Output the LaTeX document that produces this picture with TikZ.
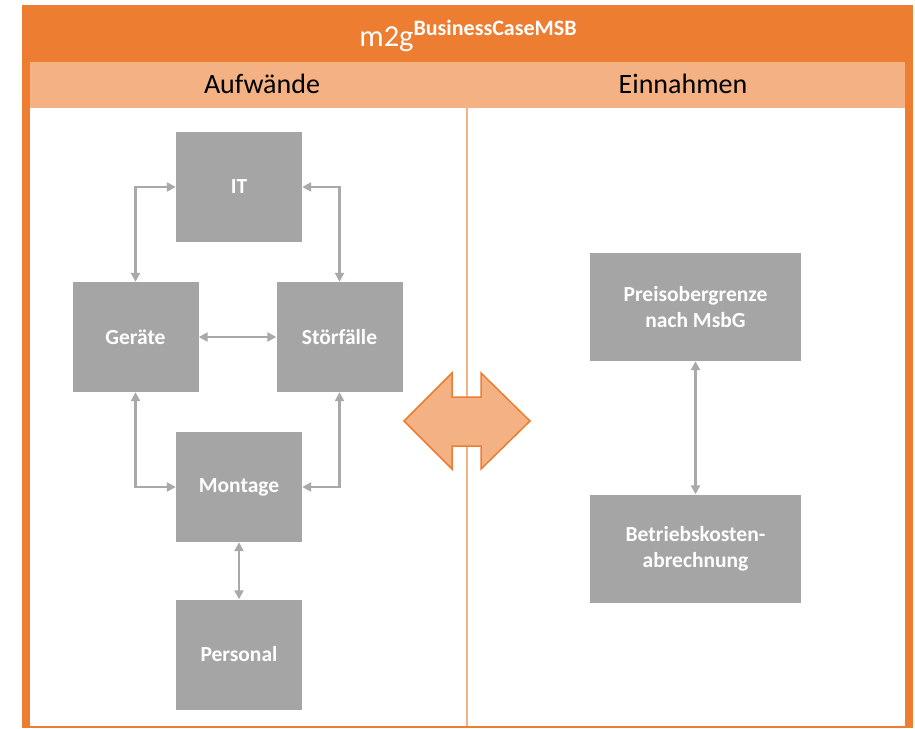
\documentclass[tikz,border=0pt]{standalone}
\usepackage{fontspec}
\setmainfont{Carlito}
\usetikzlibrary{arrows.meta}
\definecolor{morange}{HTML}{ED7D31}
\definecolor{lorange}{HTML}{F4B183}
\definecolor{boxgray}{HTML}{A5A5A5}
\definecolor{arrgray}{HTML}{A9A9A9}
\tikzset{
  gbox/.style={fill=boxgray, draw=none, inner sep=0pt, text=white,
    font=\fontsize{21.5}{26}\selectfont\bfseries, align=center,
    minimum width=126pt, minimum height=110pt},
  wbox/.style={gbox, minimum width=211pt, minimum height=108pt},
  arr/.style={draw=arrgray, line width=2.4pt, {Triangle[length=9pt,width=9pt]}-{Triangle[length=9pt,width=9pt]}},
  hdr/.style={font=\fontsize{28}{32}\selectfont, text=black, anchor=base, inner sep=0pt}
}
\begin{document}
\begin{tikzpicture}[x=1pt,y=-1pt]
\useasboundingbox (0,0) rectangle (915,728);
% frame
\fill[morange] (22,5) rectangle (913,728);
\fill[lorange] (30,62) rectangle (905,108);
\fill[white] (30,108) rectangle (905,726);
% divider
\coordinate (dtop) at (466.5,108);
\coordinate (dbot) at (466.5,726);
\draw[lorange, line width=2pt] (dtop) -- (dbot);
% title and headers
\node[anchor=base, inner sep=0pt, text=white, font=\fontsize{30.5}{36}\selectfont] (title) at (468,46)
  {m2g\raisebox{10.5pt}{\fontsize{22}{26}\selectfont\bfseries BusinessCaseMSB}};
\node[hdr] (h1) at (262,93) {Aufwände};
\node[hdr] (h2) at (683,93) {Einnahmen};
% boxes
\node[gbox] (it) at (239,187) {IT};
\node[gbox] (ge) at (135.5,337) {Geräte};
\node[gbox] (st) at (339.5,337) {Störfälle};
\node[gbox] (mo) at (239,487) {Montage};
\node[gbox] (pe) at (239,654.5) {Personal};
\node[wbox] (pr) at (695.5,307) {Preisobergrenze\\nach MsbG};
\node[wbox] (be) at (695.5,548.5) {Betriebskosten-\\abrechnung};
% connectors
\draw[arr] (ge.north) |- (it.west);
\draw[arr] (st.north) |- (it.east);
\draw[arr] (ge) -- (st);
\draw[arr] (ge.south) |- (mo.west);
\draw[arr] (st.south) |- (mo.east);
\draw[arr] (mo) -- (pe);
\draw[arr] (pr) -- (be);
% big double arrow
\draw[fill=lorange, draw=morange, line width=1.5pt, line join=miter]
  (404,421) -- (452,373) -- (452,397) -- (481,397) -- (481,373) -- (530,421)
  -- (481,469) -- (481,446) -- (452,446) -- (452,469) -- cycle;
\end{tikzpicture}
\end{document}
